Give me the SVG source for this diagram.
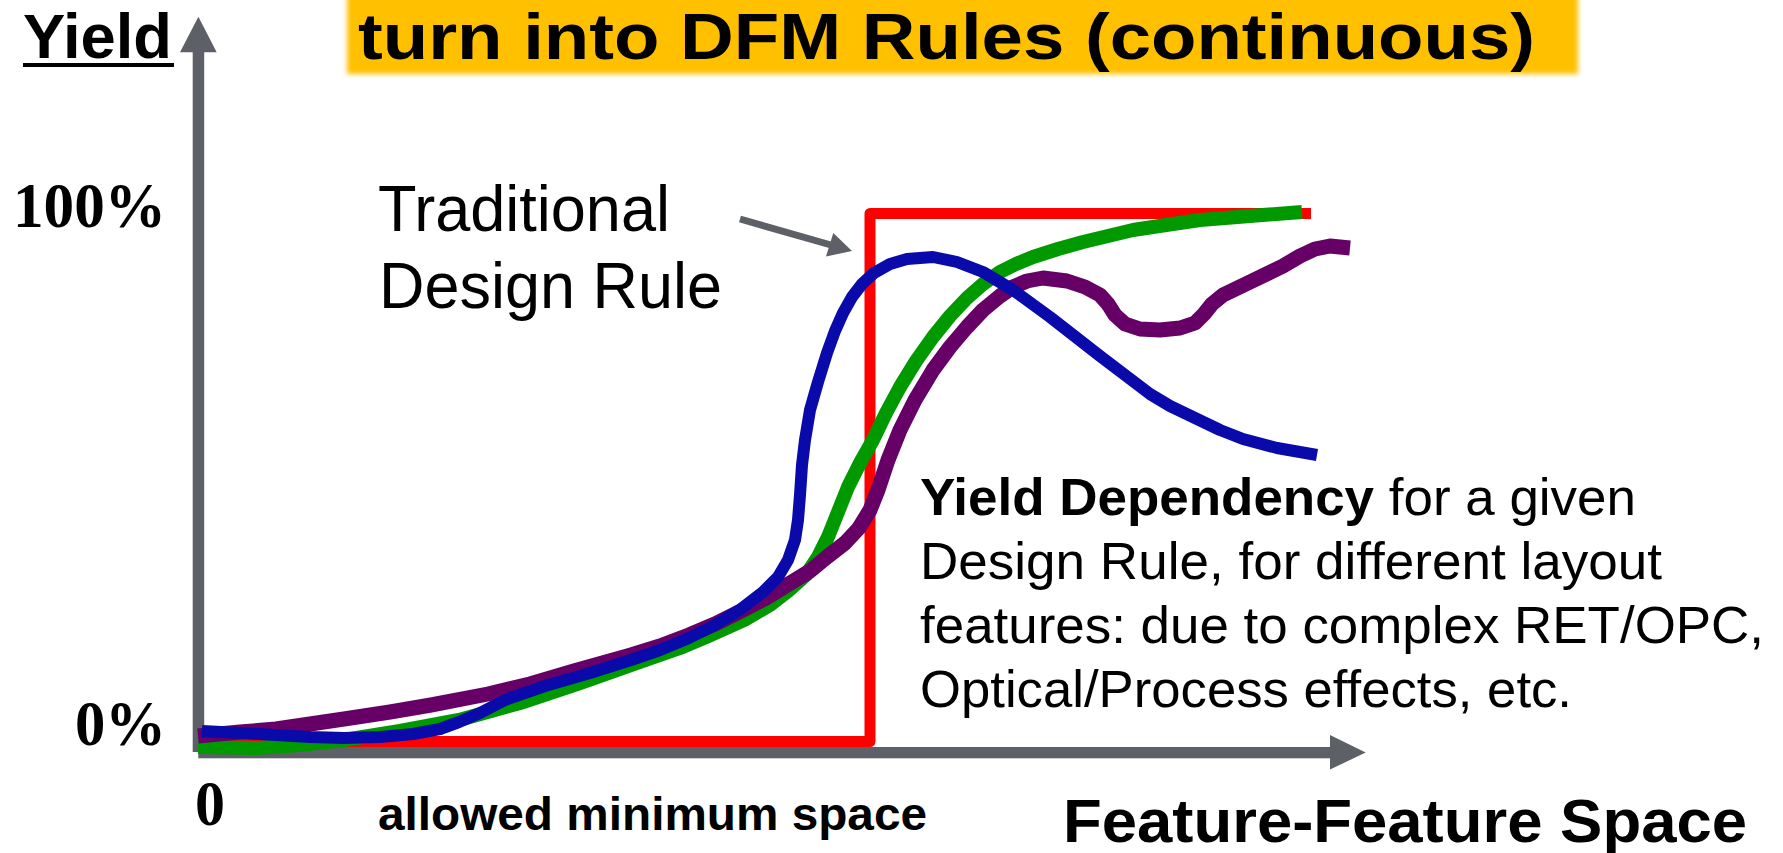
<svg xmlns="http://www.w3.org/2000/svg" width="1783" height="853" viewBox="0 0 1783 853">
  <defs>
    <filter id="soft" x="-5%" y="-30%" width="110%" height="160%">
      <feGaussianBlur stdDeviation="2.5"/>
    </filter>
  </defs>
  <style>
    .sans { font-family: "Liberation Sans", Arial, sans-serif; fill: #000; }
    .serif { font-family: "Liberation Serif", "Times New Roman", serif; font-weight: bold; fill: #000; }
    .b { font-weight: bold; }
    .axis { fill: #5E6068; }
    .curve { fill: none; stroke-linejoin: round; stroke-linecap: butt; }
  </style>
  <rect width="1783" height="853" fill="#fff"/>

  <!-- title banner -->
  <g id="title">
    <rect x="347" y="-20" width="1231" height="94" fill="#FFC000" filter="url(#soft)"/>
    <text class="sans b" x="358" y="59" font-size="64" textLength="1177" lengthAdjust="spacingAndGlyphs">turn into DFM Rules (continuous)</text>
  </g>

  <!-- axes -->
  <g id="axes">
    <rect class="axis" x="192.7" y="50" width="11.5" height="702"/>
    <polygon class="axis" points="180,52.3 216.7,52.3 198.4,16.7"/>
    <rect class="axis" x="198.3" y="747" width="1133" height="11.3"/>
    <polygon class="axis" points="1330,735 1365.7,752.6 1330,769.5"/>
  </g>

  <!-- axis labels -->
  <g id="labels">
    <text class="sans b" x="23" y="58" font-size="63" textLength="149" lengthAdjust="spacingAndGlyphs">Yield</text>
    <rect x="23" y="63" width="151" height="4" fill="#000"/>
    <text class="serif" x="13" y="227" font-size="64" textLength="153" lengthAdjust="spacingAndGlyphs">100%</text>
    <text class="serif" x="75" y="745" font-size="64" textLength="91" lengthAdjust="spacingAndGlyphs">0%</text>
    <text class="serif" x="195" y="825" font-size="63" textLength="30" lengthAdjust="spacingAndGlyphs">0</text>
    <text class="sans b" x="378" y="830" font-size="46" textLength="549" lengthAdjust="spacingAndGlyphs">allowed minimum space</text>
    <text class="sans b" x="1063" y="842" font-size="62" textLength="684" lengthAdjust="spacingAndGlyphs">Feature-Feature Space</text>
  </g>

  <!-- traditional design rule note -->
  <g id="traditional-note">
    <text class="sans" x="378" y="231" font-size="64" textLength="292" lengthAdjust="spacingAndGlyphs">Traditional</text>
    <text class="sans" x="379" y="308" font-size="64" textLength="343" lengthAdjust="spacingAndGlyphs">Design Rule</text>
  </g>

  <!-- yield dependency note -->
  <g id="dependency-note">
    <text class="sans" x="920" y="515" font-size="52" textLength="716" lengthAdjust="spacingAndGlyphs"><tspan class="b">Yield Dependency</tspan> for a given</text>
    <text class="sans" x="920" y="579" font-size="52" textLength="742" lengthAdjust="spacingAndGlyphs">Design Rule, for different layout</text>
    <text class="sans" x="920" y="643" font-size="52" textLength="844" lengthAdjust="spacingAndGlyphs">features: due to complex RET/OPC,</text>
    <text class="sans" x="920" y="707" font-size="52" textLength="652" lengthAdjust="spacingAndGlyphs">Optical/Process effects, etc.</text>
  </g>

  <!-- curves and pointer -->
  <g id="connectors">
    <line x1="740" y1="219" x2="831" y2="245" stroke="#5E6068" stroke-width="7"/>
    <polygon class="axis" points="826,256.5 833.3,233 852,251"/>

    <!-- step rule -->
    <path class="curve" stroke="#FF0000" stroke-width="11" stroke-linejoin="miter" d="M200,741.5 H870 V213.5 H1311"/>

    <!-- green -->
    <path class="curve" stroke="#009900" stroke-width="14" d="M198,747 L258,748 L300,745 L344,740 L400,731 L459,720 L520,703 L580,683 L640,662 L680,648 L706,637 L746,619 L770,605 L788,591 L806,575 L818,557 L828,537 L838,512 L848,487 L860,463 L873,440 L886,413 L900,387 L916,361 L933,337 L950,316 L967,298 L983,284 L1000,272 L1016,264 L1033,257 L1058,249 L1083,242 L1108,236 L1133,230 L1166,225 L1200,220 L1250,216 L1302,212"/>

    <!-- purple -->
    <path class="curve" stroke="#660066" stroke-width="15" d="M198,736 L240,732 L276,729 L310,724 L344,719 L390,712 L431,705 L488,694 L530,684 L574,671 L631,655 L660,646 L689,635 L715,624 L741,611 L766,598 L792,582 L810,571 L827,557 L845,543 L859,528 L870,510 L878,490 L888,460 L900,430 L915,400 L933,370 L950,347 L967,327 L983,310 L1000,296 L1013,287 L1027,281 L1043,278 L1067,281 L1085,287 L1100,295 L1108,304 L1115,315 L1125,324 L1140,329 L1160,330 L1180,328 L1195,323 L1204,314 L1212,304 L1223,295 L1250,282 L1283,266 L1300,256 L1315,249 L1330,246 L1350,248"/>

    <!-- blue -->
    <path class="curve" stroke="#0A0AAA" stroke-width="12" d="M202,731 L240,733 L276,735 L310,737 L344,738 L380,737 L413,734 L440,729 L459,722 L480,713 L505,700 L545,686 L590,673 L631,660 L660,650 L689,638 L715,625 L741,609 L763,592 L778,577 L788,560 L795,540 L798,520 L800,495 L802,465 L805,440 L810,410 L818,382 L827,353 L835,331 L843,313 L852,297 L862,284 L874,273 L890,264 L907,259 L933,257 L957,262 L983,272 L1013,290 L1050,317 L1100,356 L1125,375 L1150,394 L1170,406 L1195,418 L1220,430 L1243,439 L1277,448 L1317,455"/>
  </g>
</svg>
